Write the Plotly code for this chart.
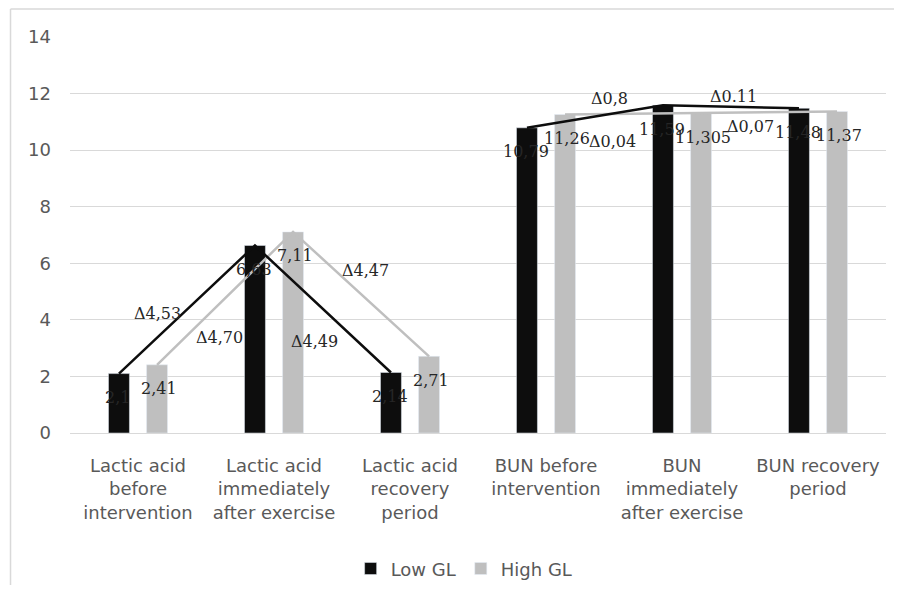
import plotly.graph_objects as go

categories = [
    "Lactic acid<br>before<br>intervention",
    "Lactic acid<br>immediately<br>after exercise",
    "Lactic acid<br>recovery<br>period",
    "BUN before<br>intervention",
    "BUN<br>immediately<br>after exercise",
    "BUN recovery<br>period",
]
low_gl = [2.10, 6.63, 2.14, 10.79, 11.59, 11.48]
high_gl = [2.41, 7.11, 2.71, 11.26, 11.305, 11.37]
low_labels = ["2,1", "6,63", "2,14", "10,79", "11,59", "11,48"]
high_labels = ["2,41", "7,11", "2,71", "11,26", "11,305", "11,37"]
delta_labels = ["Δ4,53", "Δ4,70", "Δ4,49", "Δ4,47", "Δ0,8", "Δ0,04", "Δ0.11", "Δ0,07"]

# layout / style constants
delta_pos = [(0.14, 4.21), (0.60, 3.36), (1.30, 3.22), (1.67, 5.76),
             (3.47, 11.84), (3.49, 10.29), (4.375, 11.88), (4.50, 10.82)]
BAR_W = 0.154
HALF_SEP = 0.14
LOW_COLOR = "#0d0d0d"
HIGH_COLOR = "#bfbfbf"
AX_FONT = dict(family="DejaVu Sans", size=18, color="#595959")
LBL_FONT = dict(family="DejaVu Serif", size=16, color="#262626")

idx = list(range(len(categories)))
fig = go.Figure()
fig.add_trace(go.Bar(x=idx, y=low_gl, name="Low GL", marker_color=LOW_COLOR,
                     width=BAR_W, offset=-HALF_SEP - BAR_W / 2))
fig.add_trace(go.Bar(x=idx, y=high_gl, name="High GL", marker_color=HIGH_COLOR,
                     width=BAR_W, offset=HALF_SEP - BAR_W / 2))


def line_xy(vals, shift):
    xs, ys = [], []
    for i, v in enumerate(vals):
        if i == 3:
            xs.append(None)
            ys.append(None)
        xs.append(i + shift)
        ys.append(v)
    return xs, ys


for vals, shift, col in [(high_gl, HALF_SEP, HIGH_COLOR), (low_gl, -HALF_SEP, LOW_COLOR)]:
    xs, ys = line_xy(vals, shift)
    fig.add_trace(go.Scatter(x=xs, y=ys, mode="lines", line=dict(color=col, width=2.5),
                             showlegend=False, hoverinfo="skip", connectgaps=False))

annotations = []
for i in idx:
    annotations.append(dict(x=i - HALF_SEP, y=low_gl[i], text=low_labels[i], showarrow=False,
                            font=LBL_FONT, yshift=-24, xshift=-1))
    annotations.append(dict(x=i + HALF_SEP, y=high_gl[i], text=high_labels[i], showarrow=False,
                            font=LBL_FONT, yshift=-24, xshift=2))
for t, (px, py) in zip(delta_labels, delta_pos):
    annotations.append(dict(x=px, y=py, text=t, showarrow=False, font=LBL_FONT))

# page body has an 8px margin, so the figure is pulled up/left by 8px via margins
fig.update_layout(
    width=902, height=600,
    margin=dict(l=62, r=24, t=29, b=175),
    plot_bgcolor="white", paper_bgcolor="white",
    barmode="overlay",
    showlegend=True,
    legend=dict(orientation="h", x=0.483, xanchor="center", y=-0.343, yanchor="middle",
                font=AX_FONT, traceorder="normal"),
    annotations=annotations,
    shapes=[
        dict(type="line", xref="paper", yref="paper", x0=-0.0729, x1=1.03, y0=1.0707, y1=1.0707,
             line=dict(color="#d9d9d9", width=1.5)),
        dict(type="line", xref="paper", yref="paper", x0=-0.0729, x1=-0.0729, y0=1.0707, y1=-0.384,
             line=dict(color="#d9d9d9", width=1.5)),
    ],
)
fig.update_xaxes(tickmode="array", tickvals=idx, ticktext=categories, range=[-0.5, 5.5],
                 tickfont=AX_FONT, showgrid=False, zeroline=False, showline=False, ticks="",
                 ticklabelstandoff=20)
fig.update_yaxes(range=[0, 14], dtick=2, tickfont=AX_FONT, gridcolor="#d9d9d9", gridwidth=1,
                 zeroline=True, zerolinecolor="#d9d9d9", zerolinewidth=1, ticks="",
                 ticklabelstandoff=18)

fig.write_html("out.html")
